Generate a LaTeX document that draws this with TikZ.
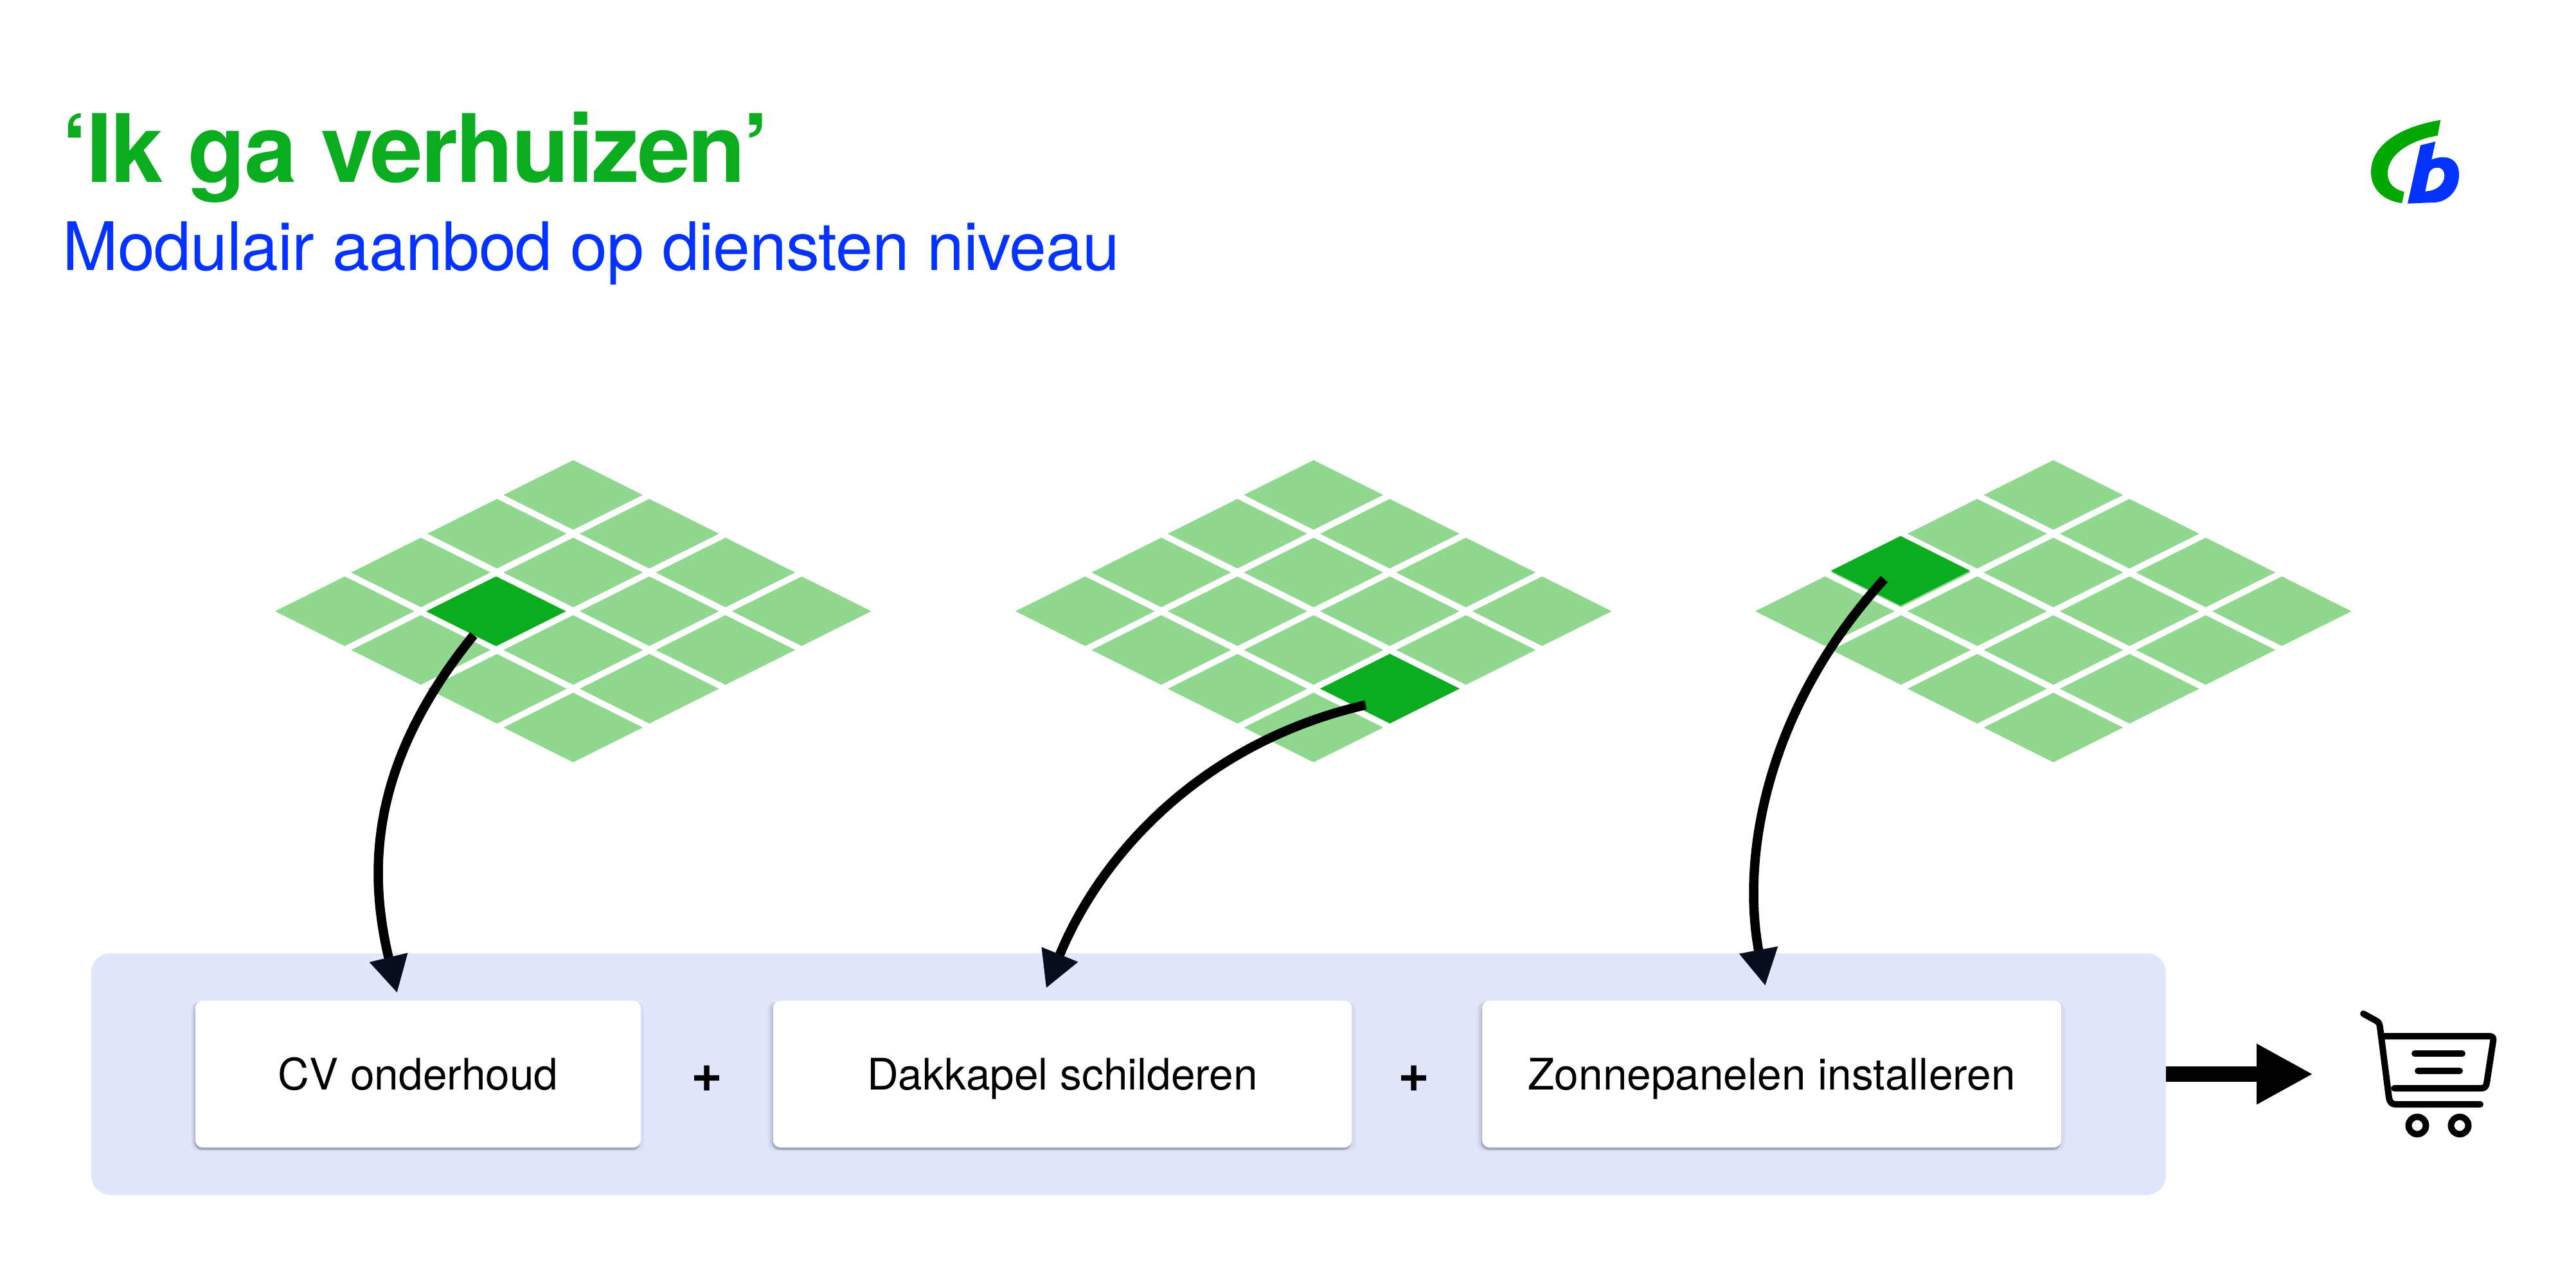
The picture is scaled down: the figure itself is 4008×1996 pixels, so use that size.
\documentclass[tikz,border=0pt]{standalone}
\usepackage{fontspec}
\setmainfont{TeX Gyre Heros}
\newfontfamily\titlefont[LetterSpace=-1.9,BoldFont=*-Bold]{TeX Gyre Heros}
\newfontfamily\subfont[LetterSpace=-0.9]{TeX Gyre Heros}
\usetikzlibrary{shapes.geometric,arrows.meta,shadows}
\definecolor{titlegreen}{HTML}{0BAC1F}
\definecolor{subblue}{HTML}{0433FF}
\definecolor{tilelight}{HTML}{90D78F}
\definecolor{panelblue}{HTML}{E0E7FC}
\definecolor{headdark}{HTML}{070F1E}
\definecolor{logogreen}{HTML}{00A800}
\definecolor{shadowdark}{HTML}{A3A9BA}
\definecolor{shadowmid}{HTML}{C4CBE2}
\definecolor{shadowsoft}{HTML}{D6DDF3}
\tikzset{
  x=1pt,y=-1pt,
  tile/.style={diamond,aspect=2,fill=tilelight,inner sep=0pt,minimum width=217pt,minimum height=108.4pt},
  tilehi/.style={tile,fill=titlegreen},
  panel/.style={rectangle,fill=panelblue,rounded corners=30pt,inner sep=0pt,minimum width=3228pt,minimum height=376pt},
  card/.style={rectangle,fill=white,rounded corners=11pt,inner sep=0pt,text height=48pt,text depth=0pt,minimum height=228pt,font=\fontsize{67.6}{80}\selectfont,
    general shadow={fill=shadowsoft,shadow xshift=-1pt,shadow yshift=-4pt,shadow scale=1.016},
    general shadow={fill=shadowmid,shadow xshift=-2pt,shadow yshift=-2pt,shadow scale=1.006},
    general shadow={fill=shadowdark,shadow xshift=-1pt,shadow yshift=-4pt}},
  plustext/.style={font=\bfseries\fontsize{84}{90}\selectfont,inner sep=0pt},
  conn/.style={line width=14.5pt,-{Triangle[length=57pt,width=57pt,color=headdark]}},
  cartline/.style={line width=10pt,line cap=round,line join=round},
}
\begin{document}
\begin{tikzpicture}
\useasboundingbox (0,0) rectangle (4008,1996);
\fill[white] (0,0) rectangle (4008,1996);
% titles
\node[anchor=base west,inner sep=0pt,text=titlegreen,font=\titlefont\bfseries\fontsize{147}{150}\selectfont] (title) at (96,283) {‘Ik ga verhuizen’};
\node[anchor=base west,inner sep=0pt,text=subblue,font=\subfont\fontsize{104}{120}\selectfont] (sub) at (97,420) {Modulair aanbod op diensten niveau};
% grids
\foreach \gx in {891.8,2043.8,3194.8}{
  \foreach \i in {0,...,3}{\foreach \j in {0,...,3}{
    \node[tile] at (\gx+118.5*\i-118.5*\j,770+60.3*\i+60.3*\j) {};
  }}
}
\node[tilehi] (hA) at (771.5,951) {};
\node[tilehi] (hB) at (2162.5,1071.3) {};
\node[tilehi] (hC) at (2957,888) {};
% panel and cards
\node[panel] (pan) at (1756,1671) {};
\node[card,minimum width=693pt] (cA) at (650.5,1671) {CV onderhoud};
\node[card,minimum width=900.5pt] (cB) at (1653,1671) {Dakkapel schilderen};
\node[card,minimum width=901pt] (cC) at (2756.5,1671) {Zonnepanelen installeren};
\node[plustext] (pA) at (1100,1678) {+};
\node[plustext] (pB) at (2200,1678) {+};
% connectors
\coordinate (sA) at (737,988);
\coordinate (eA) at (618,1545);
\coordinate (sB) at (2124.8,1096.7);
\coordinate (eB) at (1627.5,1537.7);
\coordinate (sC) at (2931.7,901);
\coordinate (eC) at (2746.7,1534);
\draw[conn] (sA) .. controls (590,1170) and (566,1330) .. (eA);
\draw[conn] (sB) .. controls (1870,1155) and (1712,1330) .. (eB);
\draw[conn] (sC) .. controls (2750,1100) and (2708,1330) .. (eC);
% big arrow
\coordinate (cartIn) at (3599,1671);
\draw[line width=23.7pt,-{Triangle[length=88pt,width=88pt]}] (pan.east) -- (cartIn);
% cart
\draw[cartline] (3677,1577) -- (3697,1588) .. controls (3701,1590) and (3702,1592) .. (3703,1598) -- (3717,1708) .. controls (3718,1714) and (3721,1718) .. (3727,1718) -- (3859,1718);
\draw[cartline] (3710,1612) -- (3874,1612) .. controls (3879,1612) and (3880,1616) .. (3879,1620) -- (3869,1685) .. controls (3868,1690) and (3866,1693) .. (3861,1693) -- (3725,1693);
\draw[cartline] (3757,1639) -- (3831,1639);
\draw[cartline] (3762,1666) -- (3827,1666);
\draw[line width=10pt] (3761,1751) circle[radius=13.5];
\draw[line width=10pt] (3827,1751) circle[radius=13.5];
% logo
\fill[logogreen] (3797.3,186.7) .. controls (3735,197) and (3689,225) .. (3689,268) .. controls (3689,295) and (3710,313) .. (3737.3,316) -- (3740.7,298.3) .. controls (3725,295) and (3715,285) .. (3715,270) .. controls (3715,240) and (3750,218) .. (3792.7,211) -- cycle;
\fill[subblue,even odd rule] (3766,226) -- (3789.3,220.3) -- (3783.3,248.3) .. controls (3810,238) and (3826,250) .. (3826,271.7) .. controls (3826,298) and (3806,315) .. (3786.7,315) -- (3746,316.7) -- cycle
 (3773.3,297.7) -- (3779.3,269.3) .. controls (3782,263) and (3787,260.7) .. (3791.7,260.7) .. controls (3800,260.7) and (3803.3,266) .. (3803.3,273.3) .. controls (3803.3,285) and (3793,297) .. (3773.3,297.7) -- cycle;
\end{tikzpicture}
\end{document}
